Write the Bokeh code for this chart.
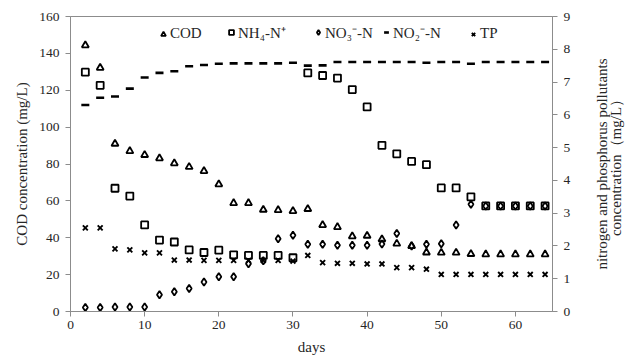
from bokeh.plotting import figure
from bokeh.layouts import row
from bokeh.models import Range1d, LinearAxis, FixedTicker, Legend, LegendItem
from bokeh.embed import file_html
from bokeh.resources import INLINE

days = [2, 4, 6, 8, 10, 12, 14, 16, 18, 20, 22, 24, 26, 28, 30, 32,
        34, 36, 38, 40, 42, 44, 46, 48, 50, 52, 54, 56, 58, 60, 62, 64]
cod = [144.4, 132.2, 91.0, 87.0, 84.9, 83.1, 80.4, 78.4, 76.2, 69.0, 58.8, 58.8, 55.2, 55.0, 54.5, 55.6,
       46.9, 45.8, 40.8, 41.1, 39.2, 36.8, 35.5, 32.0, 31.9, 31.9, 31.2, 31.0, 31.0, 31.0, 31.0, 31.0]
nh4 = [7.30, 6.90, 3.76, 3.52, 2.64, 2.18, 2.12, 1.88, 1.80, 1.87, 1.73, 1.71, 1.71, 1.71, 1.64, 7.28,
       7.20, 7.12, 6.77, 6.24, 5.07, 4.81, 4.58, 4.48, 3.77, 3.77, 3.50, 3.22, 3.22, 3.22, 3.22, 3.22]
no3 = [0.12, 0.12, 0.14, 0.14, 0.14, 0.51, 0.60, 0.70, 0.90, 1.06, 1.06, 1.46, 1.55, 2.22, 2.33, 2.05,
       2.05, 2.02, 2.02, 2.02, 2.06, 2.38, 2.00, 2.05, 2.07, 2.64, 3.27, 3.22, 3.22, 3.22, 3.22, 3.22]
no2 = [6.30, 6.52, 6.56, 6.80, 7.14, 7.28, 7.33, 7.48, 7.52, 7.56, 7.57, 7.57, 7.57, 7.57, 7.59, 7.50,
       7.51, 7.61, 7.61, 7.61, 7.61, 7.61, 7.61, 7.59, 7.61, 7.61, 7.56, 7.61, 7.61, 7.61, 7.61, 7.61]
tp = [2.55, 2.55, 1.91, 1.88, 1.79, 1.79, 1.57, 1.57, 1.56, 1.56, 1.56, 1.56, 1.56, 1.56, 1.54, 1.71,
      1.49, 1.47, 1.47, 1.45, 1.45, 1.34, 1.34, 1.29, 1.13, 1.13, 1.13, 1.13, 1.13, 1.13, 1.13, 1.13]

series_names = ["COD", "NH₄-N⁺", "NO₃⁻-N", "NO₂⁻-N", "TP"]
x_ticks = [0, 10, 20, 30, 40, 50, 60]
left_ticks = [0, 20, 40, 60, 80, 100, 120, 140, 160]
right_ticks = [0, 1, 2, 3, 4, 5, 6, 7, 8, 9]
right_title = "nitrogen and phosphorus pollutants\nconcentration（mg/L）"

FONT = "Liberation Serif"
AXIS_COLOR = "#8c8c8c"
TEXT_COLOR = "#262626"

p = figure(width=585, height=358, output_backend="svg", toolbar_location=None,
           x_range=Range1d(0, 65), y_range=Range1d(0, 160),
           min_border_left=70, min_border_right=33, min_border_top=16, min_border_bottom=47)
p.extra_y_ranges = {"n": Range1d(0, 9)}
p.grid.visible = False
p.outline_line_color = AXIS_COLOR
p.outline_line_width = 1
p.background_fill_color = "white"
p.border_fill_color = "white"

def style_axis(ax, ticks):
    ax.ticker = FixedTicker(ticks=ticks)
    ax.axis_line_color = AXIS_COLOR
    ax.major_tick_line_color = AXIS_COLOR
    ax.minor_tick_line_color = None
    ax.major_tick_out = 5
    ax.major_tick_in = 0
    ax.major_label_text_font = FONT
    ax.major_label_text_font_size = "13.5px"
    ax.major_label_text_color = TEXT_COLOR
    ax.axis_label_text_font = FONT
    ax.axis_label_text_font_size = "15px"
    ax.axis_label_text_font_style = "normal"
    ax.axis_label_text_color = TEXT_COLOR

style_axis(p.xaxis[0], x_ticks)
p.xaxis[0].axis_label = "days"
p.xaxis[0].major_label_standoff = 4
p.xaxis[0].axis_label_standoff = 7

style_axis(p.yaxis[0], left_ticks)
p.yaxis[0].axis_label = "COD concentration (mg/L)"
p.yaxis[0].major_label_standoff = 6
p.yaxis[0].axis_label_standoff = 6

ra = LinearAxis(y_range_name="n")
style_axis(ra, right_ticks)
ra.major_label_standoff = 6
p.add_layout(ra, "right")

r_cod = p.scatter(days, cod, marker="triangle", size=7, line_color="black", line_width=1.8, fill_color=None)
r_nh4 = p.scatter(days, nh4, y_range_name="n", marker="square", size=7, line_color="black", line_width=1.8, fill_color=None)
r_no3 = p.scatter(days, no3, y_range_name="n", marker="diamond", size=7.5, line_color="black", line_width=1.8, fill_color=None)
r_no2 = p.scatter(days, no2, y_range_name="n", marker="dash", size=8, line_color="black", line_width=2.6)
r_tp = p.scatter(days, tp, y_range_name="n", marker="x", size=7, line_color="black", line_width=1.9)

renderers = [r_cod, r_nh4, r_no3, r_no2, r_tp]
legend_x = [87, 155, 242, 310, 397]
for name, r, lx in zip(series_names, renderers, legend_x):
    lg = Legend(items=[LegendItem(label=name, renderers=[r])], orientation="horizontal", location=(lx, 269))
    lg.background_fill_alpha = 0
    lg.border_line_color = None
    lg.label_text_font = FONT
    lg.label_text_font_size = "15px"
    lg.label_text_color = TEXT_COLOR
    lg.glyph_width = 12
    lg.glyph_height = 16
    lg.label_height = 16
    lg.label_standoff = 1
    lg.padding = 0
    lg.margin = 0
    p.add_layout(lg)

# narrow companion figure that carries the right-hand axis title, reading bottom-to-top
t = figure(width=40, height=358, output_backend="svg", toolbar_location=None,
           x_range=Range1d(0, 1), y_range=Range1d(0, 9), x_axis_location=None,
           min_border_left=38, min_border_right=0, min_border_top=16, min_border_bottom=47)
t.grid.visible = False
t.outline_line_color = None
t.background_fill_color = "white"
t.border_fill_color = "white"
ta = t.yaxis[0]
ta.ticker = FixedTicker(ticks=[])
ta.axis_line_color = None
ta.major_tick_line_color = None
ta.minor_tick_line_color = None
ta.major_tick_out = 0
ta.axis_label = right_title
ta.axis_label_standoff = 0
ta.axis_label_text_font = FONT
ta.axis_label_text_font_size = "15px"
ta.axis_label_text_font_style = "normal"
ta.axis_label_text_color = TEXT_COLOR
ta.axis_label_text_line_height = 0.85

layout = row(p, t, spacing=0)
open("out.html", "w").write(file_html(layout, INLINE))
